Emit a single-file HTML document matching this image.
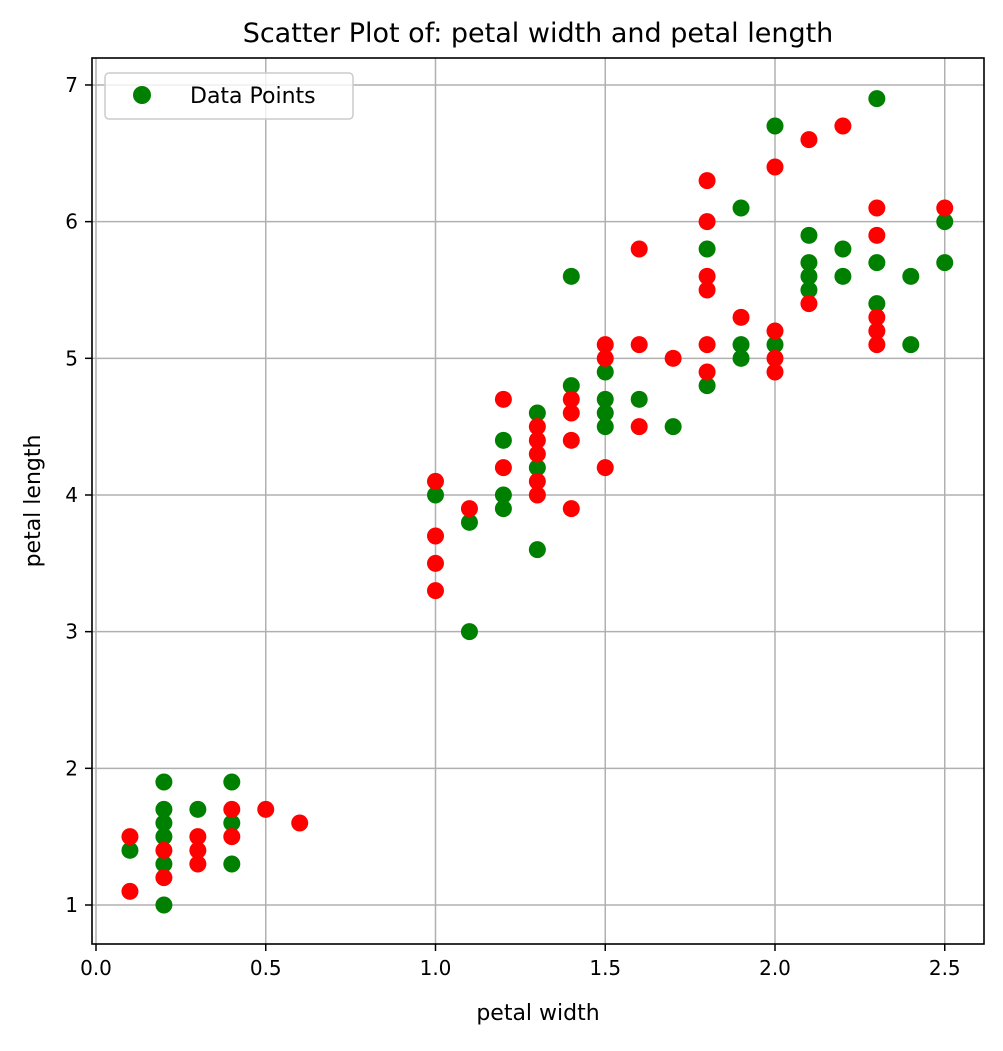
<!DOCTYPE html>
<html><head><meta charset="utf-8"><style>
body{margin:0;background:#fff;font-family:"Liberation Sans","DejaVu Sans",sans-serif}
</style></head><body>
<svg id="chart" width="1003" height="1046" xmlns="http://www.w3.org/2000/svg" font-family="DejaVu Sans, Liberation Sans, sans-serif">
<g id="grid"></g>
<g id="points"></g>
<rect x="92" y="58" width="892" height="886" fill="none" stroke="#000" stroke-width="1.6"/>
<g id="ticks"></g>
<text x="538" y="42" font-size="27" text-anchor="middle">Scatter Plot of: petal width and petal length</text>
<text x="538" y="1020" font-size="22" text-anchor="middle">petal width</text>
<text x="40" y="501" font-size="22" text-anchor="middle" transform="rotate(-90 40 501)">petal length</text>
<g>
<rect x="105" y="73" width="248" height="46" rx="4" fill="#fff" fill-opacity="0.8" stroke="#ccc" stroke-width="1.5"/>
<circle cx="142" cy="95" r="9" fill="#008000"/>
<text x="190" y="103" font-size="22">Data Points</text>
</g>
</svg>
<script>
const greenX=[0.1,0.2,0.2,0.2,0.2,0.2,0.2,0.3,0.4,0.4,0.4,1.0,1.1,1.1,1.2,1.2,1.2,1.3,1.3,1.3,1.4,1.4,1.5,1.5,1.5,1.5,1.6,1.7,1.8,1.8,1.9,1.9,1.9,2.0,2.0,2.1,2.1,2.1,2.1,2.2,2.2,2.3,2.3,2.3,2.4,2.4,2.5,2.5];
const greenY=[1.4,1.0,1.3,1.5,1.6,1.7,1.9,1.7,1.3,1.6,1.9,4.0,3.0,3.8,3.9,4.0,4.4,3.6,4.2,4.6,4.8,5.6,4.5,4.6,4.7,4.9,4.7,4.5,4.8,5.8,5.0,5.1,6.1,5.1,6.7,5.5,5.6,5.7,5.9,5.6,5.8,5.4,5.7,6.9,5.1,5.6,5.7,6.0];
const redX=[0.1,0.1,0.2,0.2,0.3,0.3,0.3,0.4,0.4,0.5,0.6,1.0,1.0,1.0,1.0,1.1,1.2,1.2,1.3,1.3,1.3,1.3,1.3,1.4,1.4,1.4,1.4,1.5,1.5,1.5,1.6,1.6,1.6,1.7,1.8,1.8,1.8,1.8,1.8,1.8,1.9,2.0,2.0,2.0,2.0,2.1,2.1,2.2,2.3,2.3,2.3,2.3,2.3,2.5];
const redY=[1.1,1.5,1.2,1.4,1.3,1.4,1.5,1.5,1.7,1.7,1.6,3.3,3.5,3.7,4.1,3.9,4.2,4.7,4.0,4.1,4.3,4.4,4.5,3.9,4.4,4.6,4.7,4.2,5.0,5.1,4.5,5.1,5.8,5.0,4.9,5.1,5.5,5.6,6.0,6.3,5.3,4.9,5.0,5.2,6.4,5.4,6.6,6.7,5.1,5.2,5.3,5.9,6.1,6.1];
const xTicks=[0.0,0.5,1.0,1.5,2.0,2.5];
const yTicks=[1,2,3,4,5,6,7];
const NS="http://www.w3.org/2000/svg";
const X=v=>96+v*339.5;
const Y=v=>905-(v-1)*136.67;
function mk(t,a,p){const e=document.createElementNS(NS,t);for(const k in a)e.setAttribute(k,a[k]);p.appendChild(e);return e;}
const grid=document.getElementById('grid'),ticks=document.getElementById('ticks'),pts=document.getElementById('points');
xTicks.forEach(v=>{
 const l=mk('line',{x1:X(v),x2:X(v),y1:58,y2:944,stroke:'#b0b0b0','stroke-width':1.5},grid);
 
 
 mk('line',{x1:X(v),x2:X(v),y1:944,y2:951,stroke:'#000','stroke-width':1.5},ticks);
 const t=mk('text',{x:X(v),y:975,'font-size':20,'text-anchor':'middle'},ticks);
 t.textContent=v.toFixed(1);
 
 
});
yTicks.forEach(v=>{
 const l=mk('line',{x1:92,x2:984,y1:Y(v),y2:Y(v),stroke:'#b0b0b0','stroke-width':1.5},grid);
 
 
 mk('line',{x1:85,x2:92,y1:Y(v),y2:Y(v),stroke:'#000','stroke-width':1.5},ticks);
 const t=mk('text',{x:78,y:Y(v)+7,'font-size':20,'text-anchor':'end'},ticks);
 t.textContent=String(v);
 
 
});
greenX.forEach((v,i)=>{
 const c=mk('circle',{cx:X(v),cy:Y(greenY[i]),r:8.5,fill:'#008000'},pts);
 
 
});
redX.forEach((v,i)=>{
 const c=mk('circle',{cx:X(v),cy:Y(redY[i]),r:8.5,fill:'#ff0000'},pts);
 
 
});
</script>
</body></html>
